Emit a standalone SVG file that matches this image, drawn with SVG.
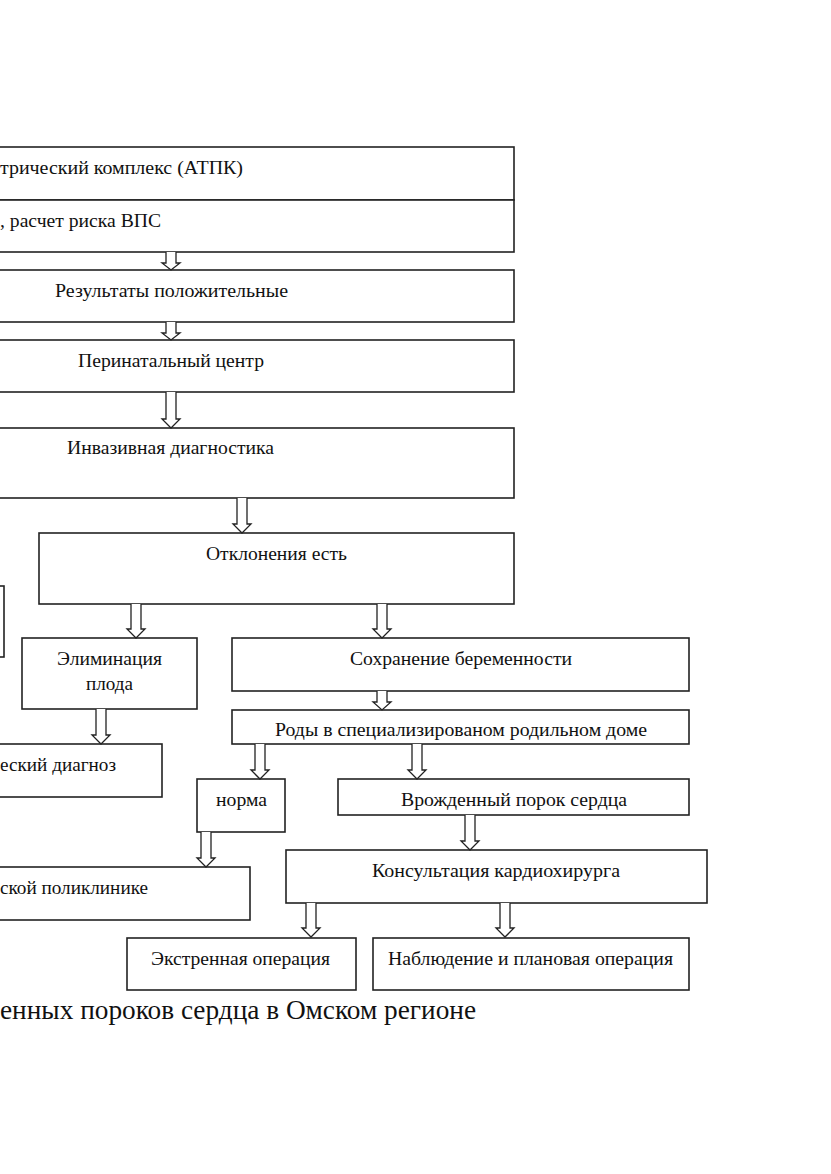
<svg xmlns="http://www.w3.org/2000/svg" width="831" height="1174" viewBox="0 0 831 1174">
<style>
.box{fill:#fff;stroke:#222;stroke-width:1.6}
.arr{fill:#fff;stroke:#222;stroke-width:1.3;stroke-linejoin:miter}
text{font-family:"Liberation Serif","Times New Roman",Times,serif;font-size:19px;fill:#111}
.cap{font-size:27px}
</style>
<rect width="831" height="1174" fill="#fff"/>
<g id="n1"><rect class="box" x="-10" y="147" width="524" height="53"/><text x="0" y="174" textLength="243" lengthAdjust="spacingAndGlyphs">трический комплекс (АТПК)</text></g>
<g id="n2"><rect class="box" x="-10" y="200" width="524" height="52"/><text x="0" y="227" textLength="161" lengthAdjust="spacingAndGlyphs">, расчет риска ВПС</text></g>
<g id="n3"><rect class="box" x="-10" y="270" width="524" height="52"/><text x="55" y="297" textLength="233" lengthAdjust="spacingAndGlyphs">Результаты положительные</text></g>
<g id="n4"><rect class="box" x="-10" y="340" width="524" height="52"/><text x="78" y="367" textLength="186" lengthAdjust="spacingAndGlyphs">Перинатальный центр</text></g>
<g id="n5"><rect class="box" x="-10" y="428" width="524" height="70"/><text x="67" y="454" textLength="207" lengthAdjust="spacingAndGlyphs">Инвазивная диагностика</text></g>
<g id="n6"><rect class="box" x="39" y="533" width="475" height="71"/><text x="206" y="560" textLength="141" lengthAdjust="spacingAndGlyphs">Отклонения есть</text></g>
<g id="n7"><rect class="box" x="-10" y="586" width="14" height="71"/></g>
<g id="n8"><rect class="box" x="22" y="638" width="175" height="71"/><text x="57" y="665" textLength="105" lengthAdjust="spacingAndGlyphs">Элиминация</text><text x="86" y="690" textLength="47" lengthAdjust="spacingAndGlyphs">плода</text></g>
<g id="n9"><rect class="box" x="232" y="638" width="457" height="53"/><text x="350" y="665" textLength="222" lengthAdjust="spacingAndGlyphs">Сохранение беременности</text></g>
<g id="n10"><rect class="box" x="232" y="710" width="457" height="34"/><text x="275" y="736" textLength="372" lengthAdjust="spacingAndGlyphs">Роды в специализированом родильном доме</text></g>
<g id="n11"><rect class="box" x="-10" y="744" width="172" height="53"/><text x="0" y="771" textLength="116" lengthAdjust="spacingAndGlyphs">еский диагноз</text></g>
<g id="n12"><rect class="box" x="197" y="779" width="88" height="53"/><text x="216" y="806" textLength="51" lengthAdjust="spacingAndGlyphs">норма</text></g>
<g id="n13"><rect class="box" x="338" y="779" width="351" height="36"/><text x="401" y="806" textLength="226" lengthAdjust="spacingAndGlyphs">Врожденный порок сердца</text></g>
<g id="n14"><rect class="box" x="-10" y="867" width="260" height="53"/><text x="0" y="894" textLength="148" lengthAdjust="spacingAndGlyphs">ской поликлинике</text></g>
<g id="n15"><rect class="box" x="286" y="850" width="421" height="53"/><text x="372" y="877" textLength="248" lengthAdjust="spacingAndGlyphs">Консультация кардиохирурга</text></g>
<g id="n16"><rect class="box" x="127" y="938" width="229" height="52"/><text x="151" y="965" textLength="179" lengthAdjust="spacingAndGlyphs">Экстренная операция</text></g>
<g id="n17"><rect class="box" x="373" y="938" width="316" height="52"/><text x="388" y="965" textLength="285" lengthAdjust="spacingAndGlyphs">Наблюдение и плановая операция</text></g>
<g id="connectors">
<path class="arr" d="M166,252 V263 H162 L171,270 L180,263 H176 V252"/>
<path class="arr" d="M166,322 V333 H162 L171,340 L180,333 H176 V322"/>
<path class="arr" d="M166,392 V419 H162 L171,428 L180,419 H176 V392"/>
<path class="arr" d="M237,498 V524 H233 L242,533 L251,524 H247 V498"/>
<path class="arr" d="M131,604 V629 H127 L136,638 L145,629 H141 V604"/>
<path class="arr" d="M377,604 V629 H373 L382,638 L391,629 H387 V604"/>
<path class="arr" d="M377,691 V702 H373 L382,710 L391,702 H387 V691"/>
<path class="arr" d="M96,709 V735 H92 L101,744 L110,735 H106 V709"/>
<path class="arr" d="M255,744 V770 H251 L260,779 L269,770 H265 V744"/>
<path class="arr" d="M412,744 V770 H408 L417,779 L426,770 H422 V744"/>
<path class="arr" d="M465,815 V841 H461 L470,850 L479,841 H475 V815"/>
<path class="arr" d="M201,832 V858 H197 L206,867 L215,858 H211 V832"/>
<path class="arr" d="M306,903 V928 H302 L311,937 L320,928 H316 V903"/>
<path class="arr" d="M500,903 V928 H496 L505,937 L514,928 H510 V903"/>
</g>
<text class="cap" x="0" y="1019" textLength="476" lengthAdjust="spacingAndGlyphs">енных пороков сердца в Омском регионе</text>
</svg>
